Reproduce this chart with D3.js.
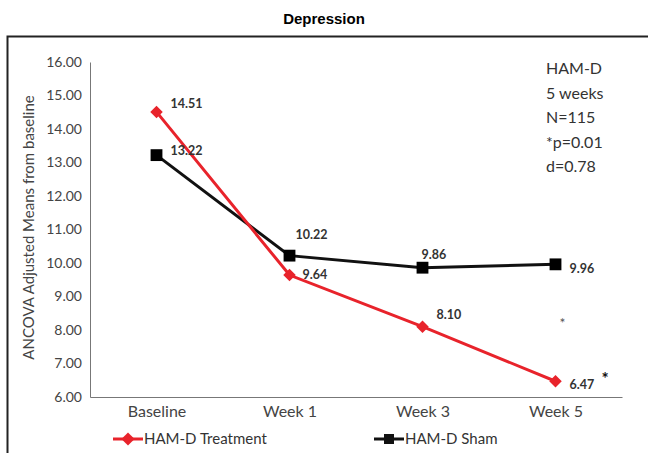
<!DOCTYPE html>
<html lang="en">
<head>
<meta charset="UTF-8">
<title>Depression</title>
<script src="https://d3js.org/d3.v7.min.js"></script>
<style>
  body { margin: 0; background: #fff; }
  text { font-family: Lato, "Open Sans", sans-serif; }
</style>
</head>
<body>
<svg width="648" height="453"></svg>
<script>
const categories = ["Baseline", "Week 1", "Week 3", "Week 5"];
const treatment = [14.51, 9.64, 8.10, 6.47];
const sham = [13.22, 10.22, 9.86, 9.96];
const yTicks = [6, 7, 8, 9, 10, 11, 12, 13, 14, 15, 16];
const notes = ["HAM-D", "5 weeks", "N=115", "*p=0.01", "d=0.78"];

const svg = d3.select("svg");
const margin = {top: 62, left: 90, right: 26, bottom: 56};
const width = 648 - margin.left - margin.right,
      height = 453 - margin.top - margin.bottom;

// frame
svg.append("path")
   .attr("d", "M7.5,453 V36.5 H648")
   .attr("fill", "none").attr("stroke", "#222").attr("stroke-width", 2);

svg.append("text")
   .attr("x", 324).attr("y", 24)
   .attr("text-anchor", "middle")
   .style("font-family", "Arial, 'Liberation Sans', sans-serif")
   .style("font-weight", "bold").style("font-size", "15px")
   .text("Depression");

const g = svg.append("g").attr("transform", `translate(${margin.left},${margin.top})`);

const x = d3.scalePoint().domain(categories).range([0, width]).padding(0.5);
const y = d3.scaleLinear().domain([6, 16]).range([height, 0]);

const yAxis = g.append("g")
  .call(d3.axisLeft(y).tickValues(yTicks).tickSize(0).tickPadding(8).tickFormat(d3.format(".2f")));
yAxis.select(".domain").attr("stroke", "#777");
yAxis.selectAll("text").attr("fill", "#444").style("font-size", "14px");

const xAxis = g.append("g")
  .attr("transform", `translate(0,${height})`)
  .call(d3.axisBottom(x).tickSize(0).tickPadding(9));
xAxis.select(".domain").attr("stroke", "#777");
xAxis.selectAll("text").attr("fill", "#444").style("font-size", "16px");

svg.append("text")
   .attr("transform", `translate(34,${margin.top + height / 2 - 2}) rotate(-90)`)
   .attr("text-anchor", "middle")
   .attr("fill", "#444").style("font-size", "15px")
   .text("ANCOVA Adjusted Means from baseline");

const line = d3.line().x((d, i) => x(categories[i])).y(d => y(d));

g.append("path").datum(sham).attr("d", line)
  .attr("fill", "none").attr("stroke", "#111").attr("stroke-width", 3);
g.append("path").datum(treatment).attr("d", line)
  .attr("fill", "none").attr("stroke", "#e8232b").attr("stroke-width", 3);

g.selectAll(".sq").data(sham).enter().append("path")
  .attr("transform", (d, i) => `translate(${x(categories[i])},${y(d)})`)
  .attr("d", d3.symbol(d3.symbolSquare, 140)).attr("fill", "#000");
g.selectAll(".dm").data(treatment).enter().append("path")
  .attr("transform", (d, i) => `translate(${x(categories[i])},${y(d)})`)
  .attr("d", d3.symbol(d3.symbolDiamond2, 100)).attr("fill", "#e8232b");

// data labels (offsets from each point)
const shamOff = [[14, -5], [6, -21], [-1, -13], [14, 4]];
const treatOff = [[14, -8], [13, 0], [14, -12], [14, 3]];
function labels(data, off) {
  g.selectAll(null).data(data).enter().append("text")
    .attr("x", (d, i) => x(categories[i]) + off[i][0])
    .attr("y", (d, i) => y(d) + off[i][1])
    .attr("dy", "0.35em")
    .attr("fill", "#333").style("font-size", "12.5px").style("font-weight", "bold")
    .text(d => d.toFixed(2));
}
labels(sham, shamOff);
labels(treatment, treatOff);

// significance stars
g.append("text")
  .attr("x", x("Week 5") + 46).attr("y", y(6.47) + 4)
  .attr("fill", "#111").style("font-size", "17px").style("font-weight", "bold").text("*");
g.append("text")
  .attr("x", x("Week 5") + 4).attr("y", y(8.3) + 8)
  .attr("fill", "#555").style("font-size", "14px").text("*");

// notes
svg.selectAll(".note").data(notes).enter().append("text")
  .attr("x", 546).attr("y", (d, i) => 74 + i * 24.6)
  .attr("fill", "#333").style("font-size", "16px").text(d => d);

// legend
const leg = svg.append("g").attr("transform", "translate(0,439)");
[{name: "HAM-D Treatment", c: "#e8232b", sym: d3.symbolDiamond2, s: 110, x0: 113},
 {name: "HAM-D Sham", c: "#111", sym: d3.symbolSquare, s: 100, x0: 374}].forEach(d => {
  leg.append("line").attr("x1", d.x0).attr("x2", d.x0 + 30).attr("stroke", d.c).attr("stroke-width", 3);
  leg.append("path").attr("transform", `translate(${d.x0 + 15},0)`)
     .attr("d", d3.symbol(d.sym, d.s)).attr("fill", d.c);
  leg.append("text").attr("x", d.x0 + 31).attr("dy", "0.35em")
     .attr("fill", "#333").style("font-size", "15px").text(d.name);
});
</script>
</body>
</html>
